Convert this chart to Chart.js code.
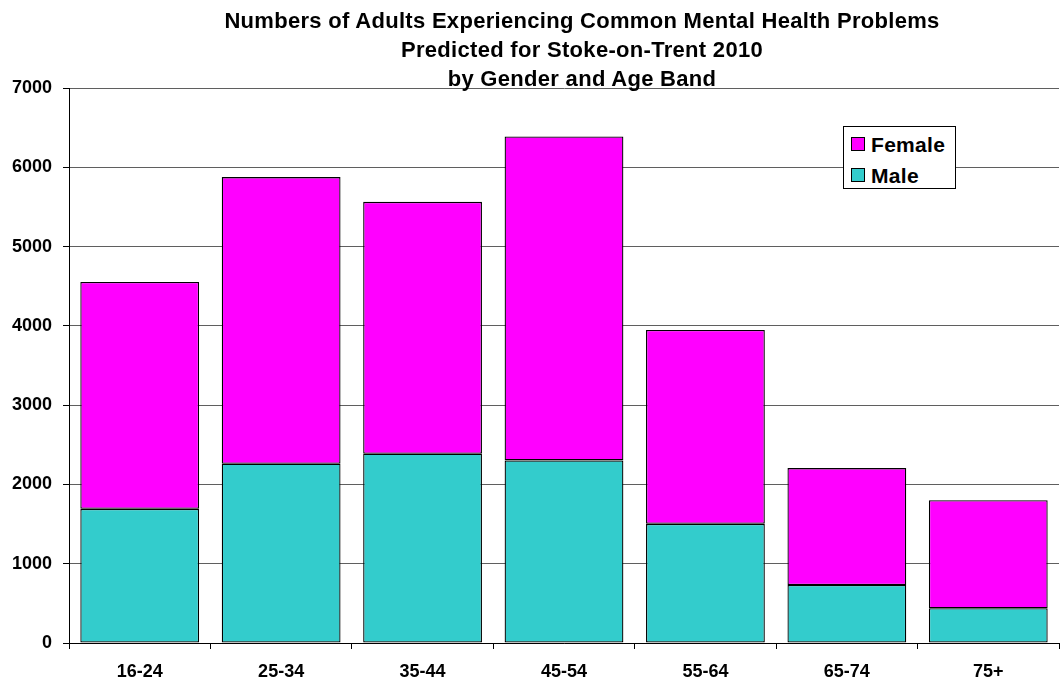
<!DOCTYPE html>
<html>
<head>
<meta charset="utf-8">
<script src="https://cdn.jsdelivr.net/npm/chart.js@4/dist/chart.umd.min.js"></script>
<style>
    html, body { margin: 0; padding: 0; background: #fff; overflow: hidden; }
    #wrap { position: relative; width: 1061px; height: 680px; }
    #title {
        position: absolute; left: 0; top: 6px; width: 1164px;
        text-align: center; font: bold 22px/29px "Liberation Sans", Arial, sans-serif; color: #000;
        letter-spacing: 0.3px;
    }
    #legend {
        position: absolute; left: 843px; top: 126px; width: 111px; height: 61px;
        border: 1px solid #000; background: #fff;
        font: bold 21px "Liberation Sans", Arial, sans-serif; color: #000; letter-spacing: 0.3px;
    }
    #legend .item { position: absolute; left: 7px; height: 24px; line-height: 24px; white-space: nowrap; }
    #legend .swatch {
        display: inline-block; width: 12px; height: 12px; border: 1px solid #000;
        vertical-align: middle; margin-right: 6px; position: relative; top: -2px;
    }
</style>
</head>
<body>
<div id="wrap">
    <canvas id="chart"></canvas>
    <div id="title"></div>
    <div id="legend"></div>
</div>
<script>
/*DATA*/
const chartTitle = ['Numbers of Adults Experiencing Common Mental Health Problems', 'Predicted for Stoke-on-Trent 2010', 'by Gender and Age Band'];
const ageBands = ['16-24', '25-34', '35-44', '45-54', '55-64', '65-74', '75+'];
const maleCounts = [1692, 2260, 2386, 2303, 1503, 732, 438];
const femaleCounts = [2862, 3616, 3178, 4086, 2445, 1474, 1364];

const labelFont = { family: '"Liberation Sans", Arial, sans-serif', size: 18, weight: 'bold' };

/*title text*/
document.getElementById('title').innerHTML = chartTitle.join('<br>');

const chart = new Chart(document.getElementById('chart'), {
    type: 'bar',
    data: {
        labels: ageBands,
        datasets: [{
            label: 'Male',
            data: maleCounts,
            backgroundColor: '#33CCCC',
            borderColor: '#000',
            borderWidth: 1.3,
            borderSkipped: false
        },
        {
            label: 'Female',
            data: femaleCounts,
            backgroundColor: '#FF00FF',
            borderColor: '#000',
            borderWidth: 1.3,
            borderSkipped: false
        }]
    },
    options: {
        responsive: true,
        maintainAspectRatio: false,
        animation: false,
        layout: { padding: { top: 88, left: 0, right: 2, bottom: 0 } },
        datasets: { bar: { categoryPercentage: 1, barPercentage: 0.84 } },
        scales: {
            x: {
                stacked: true,
                border: { color: '#000', width: 1 },
                grid: { offset: true, drawOnChartArea: false, color: '#000', tickLength: 6 },
                ticks: { color: '#000', font: labelFont, padding: 12, maxRotation: 0 },
                afterFit: (scale) => { scale.height = 37; }
            },
            y: {
                stacked: true,
                min: 0,
                max: 7000,
                border: { color: '#000', width: 1 },
                grid: { color: '#5f5f5f', tickColor: '#000', tickLength: 6 },
                ticks: {
                    stepSize: 1000, color: '#000', font: labelFont, padding: 11,
                    callback: (value) => String(value)   // no thousands separator
                },
                afterFit: (scale) => { scale.width = 69; }
            }
        },
        plugins: {
            legend: { display: false },
            tooltip: { enabled: false }
        }
    }
});

/*html legend, Female on top like the original*/
const legendBox = document.getElementById('legend');
chart.data.datasets.slice().reverse().forEach((ds, i) => {
    const item = document.createElement('div');
    item.className = 'item';
    item.style.top = (6 + i * 31) + 'px';
    item.innerHTML = `<span class="swatch" style="background:${ds.backgroundColor}"></span>${ds.label}`;
    legendBox.appendChild(item);
});
</script>
</body>
</html>
